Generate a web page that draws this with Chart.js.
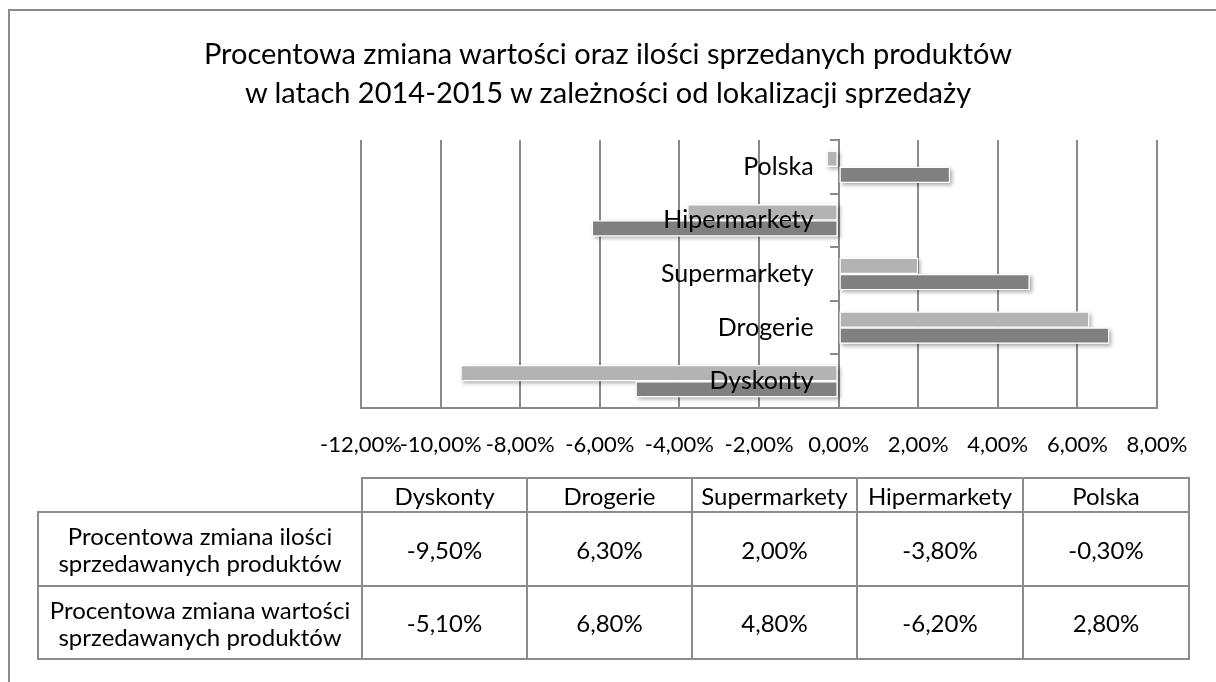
<!DOCTYPE html>
<html><head><meta charset="utf-8">
<script src="https://cdn.jsdelivr.net/npm/chart.js@4/dist/chart.umd.min.js"></script>
<style>
html,body{margin:0;padding:0;background:#fff;}
#wrap{position:relative;width:1216px;height:682px;overflow:hidden;}
#frame{position:absolute;left:8px;top:9px;width:1300px;height:800px;border:2px solid #8c8c8c;box-sizing:border-box;}
#c{position:absolute;left:0;top:0;}
#title{position:absolute;left:0;top:33px;width:1216px;text-align:center;font-family:Lato,sans-serif;font-size:29px;line-height:39px;color:#000;}
#tbl{position:absolute;left:37px;top:477px;border-collapse:collapse;table-layout:fixed;width:1151px;font-family:Lato,sans-serif;font-size:24px;color:#000;}
#tbl td{border:2px solid #8c8c8c;text-align:center;padding:0;line-height:27px;white-space:nowrap;}
#tbl td.empty{border-top:none;border-left:none;}
</style></head>
<body><div id="wrap"><div id="frame"></div><canvas id="c" width="1216" height="682"></canvas><div id="title"></div><table id="tbl"></table></div>
<script>
const categories = ['Dyskonty','Drogerie','Supermarkety','Hipermarkety','Polska'];
const iloscValues = [-9.5, 6.3, 2.0, -3.8, -0.3];
const wartoscValues = [-5.1, 6.8, 4.8, -6.2, 2.8];
const seriesNames = [['Procentowa zmiana ilości','sprzedawanych produktów'],['Procentowa zmiana wartości','sprzedawanych produktów']];
const titleLines = ['Procentowa zmiana wartości oraz ilości sprzedanych produktów','w latach 2014-2015 w zależności od lokalizacji sprzedaży'];
const xMin = -12, xMax = 8, xStep = 2;

const fmt = v => Number(v).toFixed(2).replace('.', ',') + '%';
const FONT = 'Lato';
const GRID = '#8a8a8a';

// title
const tdiv = document.getElementById('title');
titleLines.forEach((l,i)=>{ if(i) tdiv.appendChild(document.createElement('br')); tdiv.appendChild(document.createTextNode(l)); });

// table
const tbl = document.getElementById('tbl');
const cg = document.createElement('colgroup');
[324,165,165,165,166,166].forEach(w=>{const c=document.createElement('col');c.style.width=w+'px';cg.appendChild(c);});
tbl.appendChild(cg);
const hr = tbl.insertRow(); hr.style.height='34px';
const e = hr.insertCell(); e.className='empty';
categories.forEach(c=>{hr.insertCell().textContent=c;});
[iloscValues, wartoscValues].forEach((vals,i)=>{
  const r = tbl.insertRow(); r.style.height = (i===0?'74px':'73px');
  const h = r.insertCell(); h.innerHTML = seriesNames[i].join('<br>');
  vals.forEach(v=>{r.insertCell().textContent = fmt(v);});
});

const shadowPlugin = {
  id:'barShadow',
  beforeDraw(chart){
    // move category labels away from the crossing axis (ticks.padding is not applied for value-positioned axes)
    const s = chart.scales.y;
    const items = s.getLabelItems(chart.chartArea);
    if (!items._shifted) { items.forEach(it=>{ it.options.translation[0] -= 25; }); items._shifted = true; }
  },
  beforeDatasetsDraw(chart){
    const c = chart.ctx; c.save();
    c.shadowColor='rgba(0,0,0,0.35)'; c.shadowBlur=4; c.shadowOffsetX=2; c.shadowOffsetY=2; c.fillStyle='#fff';
    chart.data.datasets.forEach((d,i)=>{
      chart.getDatasetMeta(i).data.forEach(b=>{
        const p = b.getProps(['x','y','base','height'], true);
        c.fillRect(Math.min(p.x,p.base), p.y-p.height/2, Math.abs(p.x-p.base), p.height);
      });
    });
    c.restore();
  }
};

new Chart(document.getElementById('c'), {
  type:'bar',
  data:{labels:categories, datasets:[
    {label:seriesNames[0].join(' '), data:iloscValues, backgroundColor:'#b3b3b3', borderColor:'#ffffff', borderWidth:1.2, borderSkipped:false},
    {label:seriesNames[1].join(' '), data:wartoscValues, backgroundColor:'#808080', borderColor:'#ffffff', borderWidth:1.2, borderSkipped:false}
  ]},
  plugins:[shadowPlugin],
  options:{
    indexAxis:'y', responsive:false, animation:false, devicePixelRatio:1,
    categoryPercentage:0.6, barPercentage:1,
    layout:{padding:{left:361,right:59,top:140,bottom:224}},
    plugins:{ legend:{display:false}, tooltip:{enabled:false}, title:{display:false} },
    scales:{
      x:{type:'linear', min:xMin, max:xMax,
        ticks:{stepSize:xStep, autoSkip:false, maxRotation:0, color:'#000', font:{family:FONT,size:22}, padding:24, callback:v=>fmt(v)},
        grid:{color:GRID, lineWidth:2, drawTicks:false},
        border:{display:true, color:GRID, width:2},
        afterFit(s){s.height=50;}
      },
      y:{type:'category', reverse:true, position:{x:0}, z:1,
        ticks:{z:1, autoSkip:false, color:'#000', font:{family:FONT,size:25}, padding:18},
        grid:{drawOnChartArea:false, drawTicks:true, tickLength:8, color:GRID, lineWidth:2, offset:true},
        border:{display:true, color:GRID, width:2}
      }
    }
  }
});
</script></body></html>
